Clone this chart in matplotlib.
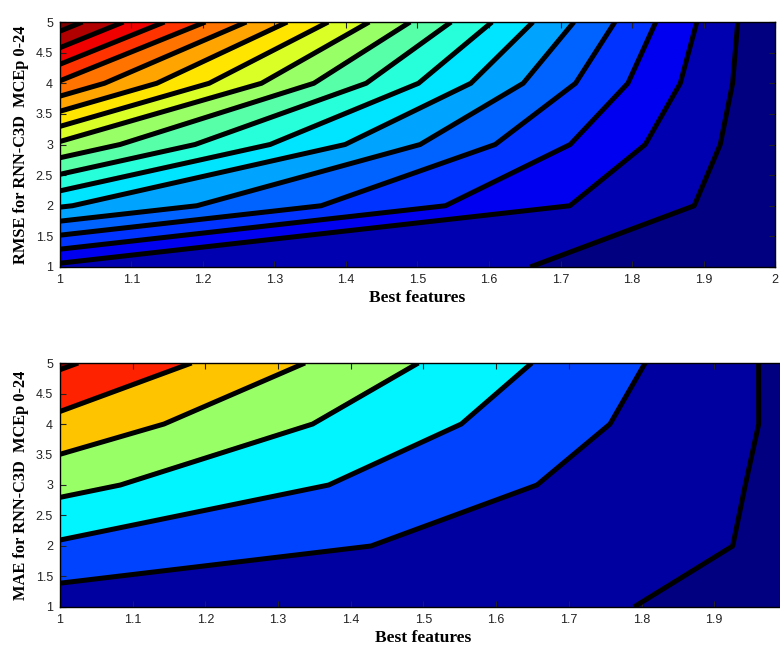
import numpy as np
import matplotlib
matplotlib.use("Agg")
import matplotlib.pyplot as plt
from matplotlib.ticker import FormatStrFormatter

# --- Data (values in units of one contour step) ---
features = [1, 2]
mcep = [1, 2, 3, 4, 5]

# RMSE grid: one column per feature count, one row per MCEp value
rmse_feat1 = [0.73, 5.10, 8.80, 12.85, 16.55]
rmse_feat2 = [-0.38, -0.65, -0.73, -0.81, -0.91]
rmse_levels = list(range(0, 17))

# MAE grid
mae_feat1 = [0.45, 1.86, 3.29, 4.70, 6.16]
mae_feat2 = [-0.12, -0.15, -0.20, -0.19, -0.25]
mae_levels = list(range(0, 7))

x_ticks = [1.0, 1.1, 1.2, 1.3, 1.4, 1.5, 1.6, 1.7, 1.8, 1.9, 2.0]
y_ticks = [1, 1.5, 2, 2.5, 3, 3.5, 4, 4.5, 5]


def matlab_jet(t, n=64):
    # MATLAB's jet (64 entries), which differs a little from matplotlib's
    t = np.floor(np.clip(t, 0, 1) * n).clip(0, n - 1) / (n - 1)
    r = np.clip(1.5 - abs(4 * t - 3), 0, 1)
    g = np.clip(1.5 - abs(4 * t - 2), 0, 1)
    b = np.clip(1.5 - abs(4 * t - 1), 0, 1)
    return (r, g, b)


def band_colors(z, levels):
    """Each band takes the colour of its lower level, scaled from min(z) to the top level."""
    zmin, ztop = z.min(), levels[-1]
    lows = [zmin] + list(levels)
    return [matlab_jet((v - zmin) / (ztop - zmin)) for v in lows]


def draw_panel(ax, col1, col2, levels, ylabel, xticks):
    X, Y = np.meshgrid(features, mcep)
    Z = np.column_stack([col1, col2])
    fill_levels = [Z.min()] + list(levels) + [Z.max()]
    ax.contourf(X, Y, Z, levels=fill_levels, colors=band_colors(Z, levels))
    ax.contour(X, Y, Z, levels=levels, colors='k', linewidths=3.6)

    ax.set_xlim(1, 2)
    ax.set_ylim(1, 5)
    ax.set_xticks(xticks)
    ax.set_yticks(y_ticks)
    ax.xaxis.set_major_formatter(FormatStrFormatter('%g'))
    ax.yaxis.set_major_formatter(FormatStrFormatter('%g'))
    ax.tick_params(direction='in', length=4, width=0.8, top=True, right=True,
                   labelsize=9, colors='#222222', pad=5)
    for lab in ax.get_xticklabels() + ax.get_yticklabels():
        lab.set_family('Liberation Sans')
    for sp in ax.spines.values():
        sp.set_linewidth(1.0)
    ax.set_xlabel('Best features', family='Liberation Serif', fontsize=12.5,
                  fontweight='bold', labelpad=3)
    ax.set_ylabel(ylabel, family='Liberation Serif', fontsize=11.8,
                  fontweight='bold', labelpad=5)


def main():
    fig = plt.figure(figsize=(7.8, 6.48), dpi=100)

    ax_top = fig.add_axes([0.0769, 0.588, 0.9167, 0.378])
    draw_panel(ax_top, rmse_feat1, rmse_feat2, rmse_levels,
               'RMSE for RNN-C3D  MCEp 0-24', x_ticks)

    # the lower panel runs past the right edge of the picture, its "2" is not seen
    ax_bot = fig.add_axes([0.0769, 0.0633, 0.932, 0.3765])
    draw_panel(ax_bot, mae_feat1, mae_feat2, mae_levels,
               'MAE for RNN-C3D  MCEp 0-24', x_ticks[:-1])

    fig.savefig('out.png', dpi=100)


if __name__ == "__main__":
    main()
